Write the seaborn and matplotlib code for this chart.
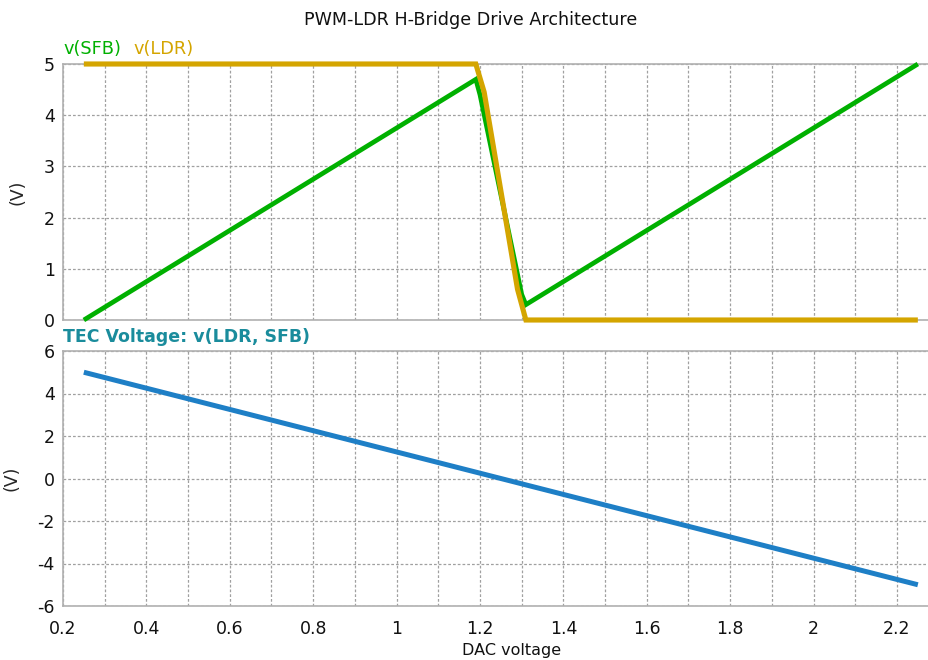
import matplotlib
matplotlib.use("Agg")
import matplotlib.pyplot as plt
import seaborn as sns
import pandas as pd
import numpy as np

# Sweep of the DAC voltage and the node voltages of the H-bridge
sfb_x = [0.25, 1.19, 1.20, 1.30, 1.31, 2.25]
sfb_y = [0.0, 4.70, 4.40, 0.50, 0.30, 5.00]

ldr_x = [0.25, 1.19, 1.21, 1.29, 1.31, 2.25]
ldr_y = [5.0, 5.0, 4.45, 0.60, 0.0, 0.0]

tec_x = [0.25, 2.25]
tec_y = [5.0, -5.0]

x_ticks = [0.2, 0.4, 0.6, 0.8, 1.0, 1.2, 1.4, 1.6, 1.8, 2.0, 2.2]
x_tick_labels = ["0.2", "0.4", "0.6", "0.8", "1", "1.2", "1.4", "1.6", "1.8", "2", "2.2"]
top_yticks = [0, 1, 2, 3, 4, 5]
bottom_yticks = [-6, -4, -2, 0, 2, 4, 6]

C_SFB = "#00b000"
C_LDR = "#d4a500"
C_TEC = "#1e7fc6"
C_TEC_LABEL = "#1a8c9c"
GRID = "#a0a0a0"
SPINE = "#b0b0b0"

sns.set_theme(style="white")
plt.rcParams["font.family"] = ["DejaVu Sans"]
plt.rcParams["axes.unicode_minus"] = False

fig = plt.figure(figsize=(9.29, 6.6), dpi=100)
ax1 = fig.add_axes([63 / 929, 1 - 320 / 660, 1 - 63 / 929, (320 - 64) / 660])
ax2 = fig.add_axes([63 / 929, 1 - 606 / 660, 1 - 63 / 929, (606 - 351) / 660])

sfb_df = pd.DataFrame({"dac": sfb_x, "v": sfb_y})
ldr_df = pd.DataFrame({"dac": ldr_x, "v": ldr_y})
sns.lineplot(data=sfb_df, x="dac", y="v", sort=False, color=C_SFB,
             linewidth=3.4, ax=ax1, zorder=3)
sns.lineplot(data=ldr_df, x="dac", y="v", sort=False, color=C_LDR,
             linewidth=3.7, ax=ax1, zorder=4)

tec_df = pd.DataFrame({"dac": tec_x, "v": tec_y})
sns.lineplot(data=tec_df, x="dac", y="v", color=C_TEC, linewidth=3.6, ax=ax2, zorder=3)

for line in ax1.lines + ax2.lines:
    line.set_clip_on(False)
    line.set_solid_capstyle("butt")
    line.set_solid_joinstyle("miter")

xlim = (0.2, 0.2 + 866 / 417)
for ax, yt, ylim in ((ax1, top_yticks, (0, 5)), (ax2, bottom_yticks, (-6, 6))):
    ax.set_xlim(*xlim)
    ax.set_ylim(*ylim)
    ax.set_yticks(yt)
    ax.set_yticklabels([str(v) for v in yt], fontsize=12.5, color="#111111")
    ax.set_xticks(np.round(np.arange(0.2, 2.25, 0.1), 2), minor=True)
    ax.set_xticks(x_ticks)
    ax.grid(True, which="both", axis="x", linestyle=(0, (2.2, 1.6)), color=GRID, linewidth=0.9)
    ax.grid(True, which="major", axis="y", linestyle=(0, (2.2, 1.6)), color=GRID, linewidth=0.9)
    ax.tick_params(axis="y", which="both", length=0, pad=6)
    ax.tick_params(axis="x", which="both", length=0, pad=10)
    for side in ("top", "bottom", "left"):
        ax.spines[side].set_color(SPINE)
        ax.spines[side].set_linewidth(1.2)
    ax.spines["right"].set_visible(False)
    ax.set_ylabel("(V)", fontsize=12.5, labelpad=12)
    ax.set_xlabel("")

ax1.set_xticklabels([])
ax2.set_xticklabels(x_tick_labels, fontsize=12.5, color="#111111")

fig.text(512 / 929, 1 - 651 / 660, "DAC voltage", ha="center", va="center",
         fontsize=11.5, color="#111111")

# Series captions above each panel
ax1.text(0.0, 1.025, "v(SFB)", transform=ax1.transAxes, color=C_SFB,
         fontsize=12.8, ha="left", va="bottom")
ax1.text(70 / 866, 1.025, "v(LDR)", transform=ax1.transAxes, color=C_LDR,
         fontsize=12.8, ha="left", va="bottom")
ax2.text(0.0, 1.02, "TEC Voltage: v(LDR, SFB)", transform=ax2.transAxes,
         color=C_TEC_LABEL, fontsize=12.5, fontweight="bold", ha="left", va="bottom")

fig.text(471 / 929, 1 - 20 / 660, "PWM-LDR H-Bridge Drive Architecture",
         ha="center", va="center", fontsize=12.6, color="#111111")

fig.savefig("out.png", dpi=100)
